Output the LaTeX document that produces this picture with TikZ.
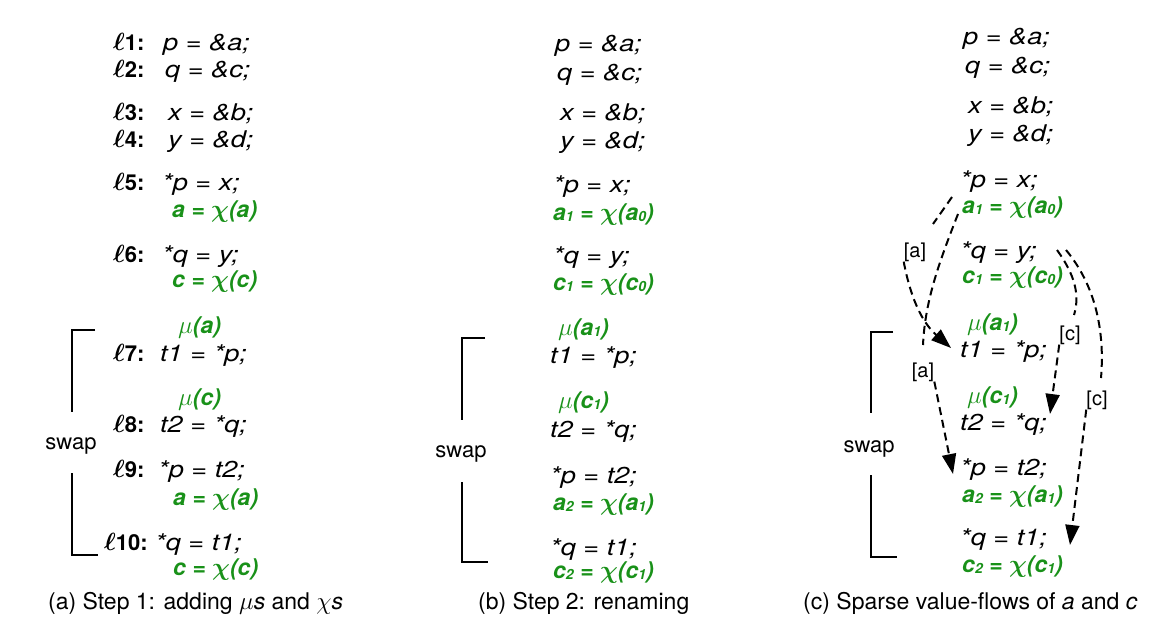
\documentclass[tikz,border=0pt]{standalone}
\usepackage{amsmath,bm}
\usepackage{fontspec}
\setmainfont{TeX Gyre Heros}
\newfontfamily\codefont[FakeStretch=1.18]{TeX Gyre Heros}
\usetikzlibrary{arrows.meta}
\definecolor{cgreen}{RGB}{25,145,25}
\newcommand{\lbl}[1]{{\fontsize{26}{26}\selectfont$\bm{\ell}$}\textbf{#1:}}
\newcommand{\gsb}[1]{\raisebox{-1pt}{\fontsize{14}{14}\selectfont #1}}
\newcommand{\gx}{$\bm{\chi}$}
\newcommand{\gm}{$\mu$}
\begin{document}
\begin{tikzpicture}[x=1pt,y=-1pt,
  codetext/.style={anchor=base west, inner sep=0pt, font=\codefont\fontsize{23}{23}\selectfont\itshape},
  gcode/.style={anchor=base west, inner sep=0pt, text=cgreen, font=\fontsize{23}{23}\selectfont\bfseries\itshape},
  mcode/.style={anchor=base west, inner sep=0pt, text=cgreen, font=\fontsize{23}{23}\selectfont\bfseries\itshape},
  labtext/.style={anchor=base west, inner sep=0pt, font=\fontsize{22}{22}\selectfont},
  swaptext/.style={anchor=base, inner sep=0pt, font=\fontsize{22}{22}\selectfont},
  anntext/.style={inner sep=0pt, font=\fontsize{20}{20}\selectfont},
  captext/.style={anchor=base west, inner sep=0pt, font=\fontsize{23}{23}\selectfont},
  brk/.style={line width=1.6pt},
  flowline/.style={line width=2pt, dash pattern=on 8pt off 5pt},
  arrowtip/.style={-{Triangle[length=20pt,width=14pt]}}
]
\useasboundingbox (0,0) rectangle (1155,642);

% ---------- column (a) ----------
\node[labtext] (l1) at (113,51) {\lbl{1}};
\node[labtext] (l2) at (113,77) {\lbl{2}};
\node[labtext] (l3) at (113,120) {\lbl{3}};
\node[labtext] (l4) at (113,147) {\lbl{4}};
\node[labtext] (l5) at (113,190) {\lbl{5}};
\node[labtext] (l6) at (113,262) {\lbl{6}};
\node[labtext] (l7) at (113,361) {\lbl{7}};
\node[labtext] (l8) at (113,432) {\lbl{8}};
\node[labtext] (l9) at (113,477) {\lbl{9}};
\node[labtext] (l10) at (104,550) {\lbl{10}};

\node[codetext] (a1) at (163,51) {p = \&a;};
\node[codetext] (a2) at (165,77) {q = \&c;};
\node[codetext] (a3) at (168,120) {x = \&b;};
\node[codetext] (a4) at (168,147) {y = \&d;};
\node[codetext] (a5) at (162,190) {*p = x;};
\node[gcode] (a5g) at (172,217) {a = \gx(a)};
\node[codetext] (a6) at (162,262) {*q = y;};
\node[gcode] (a6g) at (172,287) {c = \gx(c)};
\node[mcode] (a7m) at (178,333) {{\mdseries\gm}(a)};
\node[codetext] (a7) at (160,361) {t1 = *p;};
\node[mcode] (a8m) at (178,405) {{\mdseries\gm}(c)};
\node[codetext] (a8) at (160,432) {t2 = *q;};
\node[codetext] (a9) at (158,477) {*p = t2;};
\node[gcode] (a9g) at (173,505) {a = \gx(a)};
\node[codetext] (a10) at (155,550) {*q = t1;};
\node[gcode] (a10g) at (173,575) {c = \gx(c)};

\node[swaptext] (swa) at (71,449) {swap};
\draw[brk] (95,330) -- (72,330) -- (72,412);
\draw[brk] (72,473) -- (72,555) -- (98,555);

% ---------- column (b) ----------
\node[codetext] (b1) at (555,52) {p = \&a;};
\node[codetext] (b2) at (557,80) {q = \&c;};
\node[codetext] (b3) at (560,120) {x = \&b;};
\node[codetext] (b4) at (560,148) {y = \&d;};
\node[codetext] (b5) at (553,192) {*p = x;};
\node[gcode] (b5g) at (553,220) {a\gsb{1} = \gx(a\gsb{0})};
\node[codetext] (b6) at (553,263) {*q = y;};
\node[gcode] (b6g) at (553,290) {c\gsb{1} = \gx(c\gsb{0})};
\node[mcode] (b7m) at (558,335) {{\mdseries\gm}(a\gsb{1})};
\node[codetext] (b7) at (550,363) {t1 = *p;};
\node[mcode] (b8m) at (558,408) {{\mdseries\gm}(c\gsb{1})};
\node[codetext] (b8) at (550,437) {t2 = *q;};
\node[codetext] (b9) at (550,483) {*p = t2;};
\node[gcode] (b9g) at (553,510) {a\gsb{2} = \gx(a\gsb{1})};
\node[codetext] (b10) at (550,555) {*q = t1;};
\node[gcode] (b10g) at (553,578) {c\gsb{2} = \gx(c\gsb{1})};

\node[swaptext] (swb) at (461,457) {swap};
\draw[brk] (485,338) -- (462,338) -- (462,420);
\draw[brk] (462,482) -- (462,562) -- (488,562);

% ---------- column (c) ----------
\node[codetext] (c1) at (963,45) {p = \&a;};
\node[codetext] (c2) at (965,73) {q = \&c;};
\node[codetext] (c3) at (968,113) {x = \&b;};
\node[codetext] (c4) at (968,141) {y = \&d;};
\node[codetext] (c5) at (960,187) {*p = x;};
\node[gcode] (c5g) at (962,213) {a\gsb{1} = \gx(a\gsb{0})};
\node[codetext] (c6) at (960,258) {*q = y;};
\node[gcode] (c6g) at (962,283) {c\gsb{1} = \gx(c\gsb{0})};
\node[mcode] (c7m) at (967,330) {{\mdseries\gm}(a\gsb{1})};
\node[codetext] (c7) at (960,357) {t1 = *p;};
\node[mcode] (c8m) at (967,403) {{\mdseries\gm}(c\gsb{1})};
\node[codetext] (c8) at (960,430) {t2 = *q;};
\node[codetext] (c9) at (960,475) {*p = t2;};
\node[gcode] (c9g) at (962,502) {a\gsb{2} = \gx(a\gsb{1})};
\node[codetext] (c10) at (960,545) {*q = t1;};
\node[gcode] (c10g) at (962,572) {c\gsb{2} = \gx(c\gsb{1})};

\node[swaptext] (swc) at (869,452) {swap};
\draw[brk] (893,332) -- (871,332) -- (871,413);
\draw[brk] (871,475) -- (871,557) -- (897,557);

% value-flow labels
\node[anntext] (fa1) at (915,252) {[a]};
\node[anntext] (fa2) at (923,372) {[a]};
\node[anntext] (fc1) at (1070,335) {[c]};
\node[anntext] (fc2) at (1097,400) {[c]};

\coordinate (s1) at (952,197);
\coordinate (e1) at (933,224);
\coordinate (t1) at (951,348);
\coordinate (s2) at (958,214);
\coordinate (e2) at (923,345);
\coordinate (t2) at (953,474);
\coordinate (s3) at (1057,250);
\coordinate (e3) at (1074,315);
\coordinate (t3) at (1050,414);
\coordinate (s4) at (1066,250);
\coordinate (e4) at (1101,378);
\coordinate (t4) at (1070,545);

\draw[flowline] (s1) .. controls (945,207) .. (e1);
\draw[flowline,arrowtip] (fa1.south west) .. controls (912,305) and (925,325) .. (t1);
\draw[flowline] (s2) .. controls (940,260) and (925,300) .. (e2);
\draw[flowline,arrowtip] (fa2.south east) -- (t2);
\draw[flowline] (s3) .. controls (1075,275) and (1080,295) .. (e3);
\draw[flowline,arrowtip] (fc1.south west) -- (t3);
\draw[flowline] (s4) .. controls (1095,285) and (1105,330) .. (e4);
\draw[flowline,arrowtip] (fc2.south west) -- (t4);

% captions
\node[captext] (capa) at (48,609) {(a) Step 1: adding \textit{$\mu$s} and \textit{$\chi$s}};
\node[captext] (capb) at (478,609) {(b) Step 2: renaming};
\node[captext] (capc) at (803,609) {(c) Sparse value-flows of \textit{a} and \textit{c}};
\end{tikzpicture}
\end{document}
